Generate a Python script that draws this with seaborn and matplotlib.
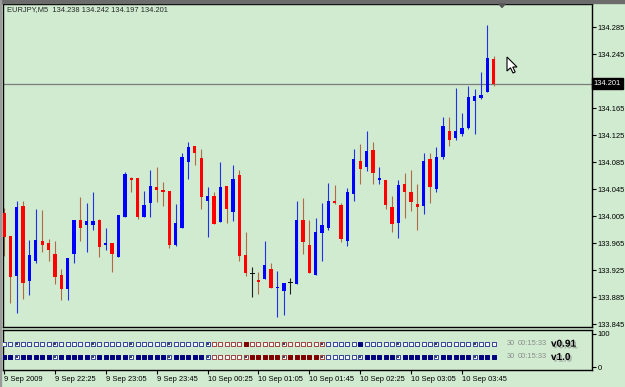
import matplotlib
matplotlib.use("Agg")
import matplotlib.pyplot as plt
import matplotlib.patheffects as pe
import matplotlib.transforms as mtrans
from matplotlib.patches import Polygon, Rectangle
import numpy as np
import pandas as pd
import seaborn as sns

# --- data ---
symbol = "EURJPY,M5"

opens = [134.009, 133.975, 133.916, 134.020, 133.909, 133.939, 133.968, 133.965, 133.949, 133.917,
         133.897, 133.949, 133.999, 133.992, 133.992, 133.999, 133.962, 133.965, 133.945, 134.003,
         134.062, 134.061, 134.003, 134.025, 134.048, 134.043, 134.042, 133.962, 133.987, 134.085,
         134.109, 134.091, 134.027, 134.034, 133.996, 134.050, 134.011, 134.066, 133.947, 133.920,
         133.910, 133.911, 133.926, 133.898, 133.894, 133.907, 133.905, 133.999, 133.962, 133.917,
         133.980, 133.988, 134.028, 134.021, 133.968, 134.037, 134.086, 134.077, 134.103, 134.058,
         134.059, 134.018, 133.994, 134.052, 134.040, 134.023, 134.020, 134.089, 134.045, 134.092,
         134.131, 134.120, 134.126, 134.136, 134.176, 134.180, 134.188, 134.238]
highs = [134.017, 133.976, 134.028, 134.028, 133.969, 134.015, 134.014, 133.971, 133.968, 133.927,
         133.943, 133.999, 134.033, 134.024, 134.040, 134.000, 133.988, 133.965, 134.007, 134.070,
         134.063, 134.061, 134.042, 134.073, 134.077, 134.056, 134.042, 134.023, 134.098, 134.115,
         134.109, 134.105, 134.048, 134.041, 134.085, 134.050, 134.081, 134.073, 133.982, 133.930,
         133.922, 133.968, 133.935, 133.924, 133.906, 133.913, 134.028, 134.031, 133.999, 134.002,
         134.025, 134.054, 134.051, 134.024, 134.046, 134.104, 134.112, 134.131, 134.114, 134.077,
         134.059, 134.034, 134.058, 134.069, 134.073, 134.052, 134.099, 134.099, 134.107, 134.151,
         134.151, 134.194, 134.158, 134.197, 134.193, 134.218, 134.288, 134.242]
lows = [133.946, 133.876, 133.861, 133.882, 133.888, 133.935, 133.951, 133.939, 133.905, 133.881,
        133.880, 133.935, 133.968, 133.952, 133.984, 133.945, 133.955, 133.922, 133.945, 134.003,
        134.040, 134.001, 134.003, 134.003, 134.026, 134.020, 133.957, 133.960, 133.987, 134.060,
        134.081, 134.016, 133.974, 133.993, 133.996, 133.995, 133.998, 133.939, 133.916, 133.885,
        133.889, 133.911, 133.898, 133.855, 133.858, 133.889, 133.904, 133.949, 133.921, 133.917,
        133.938, 133.984, 134.023, 133.967, 133.960, 134.028, 134.052, 134.072, 134.053, 134.052,
        134.016, 133.981, 133.973, 134.002, 134.013, 133.985, 134.008, 134.025, 134.041, 134.089,
        134.108, 134.118, 134.124, 134.134, 134.126, 134.178, 134.188, 134.197]
closes = [133.974, 133.914, 134.019, 133.906, 133.947, 133.970, 133.962, 133.955, 133.914, 133.897,
          133.943, 133.999, 133.988, 133.997, 133.997, 133.959, 133.965, 133.949, 134.006, 134.067,
          134.058, 134.004, 134.021, 134.050, 134.044, 134.040, 133.962, 133.994, 134.093, 134.107,
          134.098, 134.033, 134.034, 133.993, 134.048, 134.016, 134.060, 133.946, 133.921, 133.920,
          133.908, 133.933, 133.898, 133.899, 133.906, 133.907, 133.999, 133.967, 133.921, 133.982,
          133.992, 134.027, 134.024, 133.971, 134.040, 134.089, 134.075, 134.101, 134.068, 134.061,
          134.021, 133.993, 134.051, 134.041, 134.026, 134.018, 134.086, 134.048, 134.093, 134.138,
          134.118, 134.131, 134.136, 134.181, 134.183, 134.184, 134.239, 134.201]

time_labels = ["9 Sep 2009", "9 Sep 22:25", "9 Sep 23:05", "9 Sep 23:45", "10 Sep 00:25",
               "10 Sep 01:05", "10 Sep 01:45", "10 Sep 02:25", "10 Sep 03:05", "10 Sep 03:45"]
price_ticks = [134.285, 134.245, 134.165, 134.125, 134.085, 134.045, 134.005,
               133.965, 133.925, 133.885, 133.845]
bid = 134.201
osc_ticks = [0, 100]

# indicator boxes, one per bar: colour (b blue / r red), style (o empty, f filled, d dotted)
box_colors = ("bbbbbbbbbbbbbbbbbbbbbbbbbbbbbbbbb"
              "rrrrrrrrrrrrrrrrrr"
              "bbbbbbbbbbbbbbbbbbbbbbbbbbb")
v091_style = ("oodooo" "oodooo" "oodooo" "oodooo" "oodooo" "oodooo" "oofooo"
              "oodooo" "oodooo" "oofooo" "oodooo" "oodooo" "oodooo")
v1_style = ("ffdfff" "ffdfff" "ffdfff" "ffdfff" "ffdfff" "ffdooo" "oodfff"
            "ffdfff" "ffdooo" "oodfff" "ffdfff" "ffdfff" "ffdfff")
panel_rows = [("v0.91", 70, v091_style), ("v1.0", 30, v1_style)]
bars_count = "30"
timer = "00:15:33"

W, H = 625, 387
bg = "#d0ebd0"
fs = 5.4

sns.set_style("white")
plt.rcParams["font.family"] = ["Liberation Sans", "DejaVu Sans"]
plt.rcParams["font.size"] = fs

fig = plt.figure(figsize=(W / 100, H / 100), dpi=100, facecolor=bg)
ax = fig.add_axes([3 / W, 1 - 327 / H, 589 / W, 323 / H])
ax2 = fig.add_axes([3 / W, 1 - 370 / H, 589 / W, 40 / H])

df = pd.DataFrame({"open": opens, "high": highs, "low": lows, "close": closes})
df["bar"] = np.arange(len(df))
up = df.close > df.open
down = df.close < df.open
body_col = np.where(up, "#0000ff", np.where(down, "#ff0000", "#101010"))
wick_col = np.where(up, "#2030ee", np.where(down, "#b06a45", "#202020"))

# candles
ax.axhline(bid, color="#7c7c7c", lw=0.9, zorder=1)
ax.vlines(df.bar, df.low, df.high, colors=wick_col, lw=0.8, zorder=2)
height = (df.close - df.open).abs().clip(lower=0.0012)
bottom = np.where(up | down, np.minimum(df.open, df.close), df.open - 0.0006)
width = np.where(up | down, 0.52, 0.8)
ax.bar(df.bar, height, bottom=bottom, width=width, color=body_col, linewidth=0, zorder=3)

ax.set_facecolor(bg)
ax.set_xlim(-0.16, 92.45)
ax.set_ylim(133.8406, 134.3191)
ax.set_xticks([])
ax.yaxis.tick_right()
ax.set_yticks(price_ticks)
ax.set_yticklabels([f"{p:.3f}" for p in price_ticks])
ax.tick_params(axis="y", right=True, left=False, length=3, width=0.8, pad=1.2,
               labelsize=fs, colors="black")
for s in ax.spines.values():
    s.set_color("black")
    s.set_linewidth(1)

ax.text(4 / 589, 1 - 6 / 323,
        f"{symbol}  {opens[-1]:.3f} {highs[-1]:.3f} {lows[-1]:.3f} {closes[-1]:.3f}",
        transform=ax.transAxes, va="center", ha="left", fontsize=fs)
bt = mtrans.blended_transform_factory(ax.transAxes, ax.transData)
ax.text(1.003, bid, f"{bid:.3f}", transform=bt, color="white", va="center", ha="left",
        fontsize=fs, bbox=dict(boxstyle="square,pad=0.25", fc="black", ec="black"))

# indicator panel
ax2.set_facecolor(bg)
edge = {"b": "#36449c", "r": "#a04444"}
full = {"b": "#000080", "r": "#800000"}
bt2 = mtrans.blended_transform_factory(ax2.transAxes, ax2.transData)
for name, level, style in panel_rows:
    for c in "br":
        for st in "ofd":
            idx = [i for i in range(len(style)) if style[i] == st and box_colors[i] == c]
            if not idx:
                continue
            face = full[c] if st == "f" else "#f4f7f4"
            sns.scatterplot(x=idx, y=[level] * len(idx), marker="s", s=9, color=face,
                            edgecolor=full[c] if st == "f" else edge[c], linewidth=0.7,
                            ax=ax2, legend=False, zorder=3)
            if st == "d":
                sns.scatterplot(x=idx, y=[level] * len(idx), marker="s", s=1.5,
                                color="#404060", linewidth=0, ax=ax2, legend=False, zorder=4)
    ax2.text((507 - 3) / 589, level, bars_count, transform=bt2, color="#8c8c8c",
             va="center", fontsize=fs)
    ax2.text((518 - 3) / 589, level, timer, transform=bt2, color="#8c8c8c",
             va="center", fontsize=fs)
    t = ax2.text((551 - 3) / 589, level, name, transform=bt2, color="black", va="center",
                 fontsize=7.2, fontweight="bold")
    t.set_path_effects([pe.withSimplePatchShadow(offset=(1.2, -1.2), shadow_rgbFace="#909090",
                                                 alpha=0.7)])

ax2.set_xlim(-0.16, 92.45)
ax2.set_ylim(-9, 111)
ax2.set_xlabel("")
ax2.set_ylabel("")
ax2.yaxis.tick_right()
ax2.set_yticks(osc_ticks)
ax2.set_yticklabels([str(v) for v in osc_ticks])
ax2.set_xticks(np.arange(len(time_labels)) * 8)
ax2.set_xticklabels(time_labels, ha="left")
ax2.tick_params(axis="y", right=True, left=False, length=3, width=0.8, pad=1.2,
                labelsize=fs, colors="black")
ax2.tick_params(axis="x", bottom=True, length=3, width=0.8, pad=1.5, labelsize=fs,
                colors="black")
for s in ax2.spines.values():
    s.set_color("black")
    s.set_linewidth(1)

# window chrome: top bar, left edge, shift marker, mouse cursor
def px(x, y):
    return (x / W, 1 - y / H)

fig.patches.append(Rectangle(px(0, 2.5), 1, 2.5 / H, transform=fig.transFigure,
                             color="#6c6c6c", zorder=0))
fig.patches.append(Rectangle(px(0, H), 1.5 / W, 1, transform=fig.transFigure,
                             color="#9a9a9a", zorder=0))
fig.patches.append(Polygon([px(499, 4), px(505, 4), px(502, 7.5)], closed=True,
                           transform=fig.transFigure, color="#555555", zorder=5))
cursor = [(0, 0), (0, 14), (3.5, 10.8), (6, 16), (8.2, 15), (5.8, 10), (10, 10)]
fig.patches.append(Polygon([px(507 + dx, 57 + dy) for dx, dy in cursor], closed=True,
                           transform=fig.transFigure, fc="white", ec="black", lw=0.8,
                           zorder=6))

fig.savefig("out.png", dpi=100, facecolor=bg)
